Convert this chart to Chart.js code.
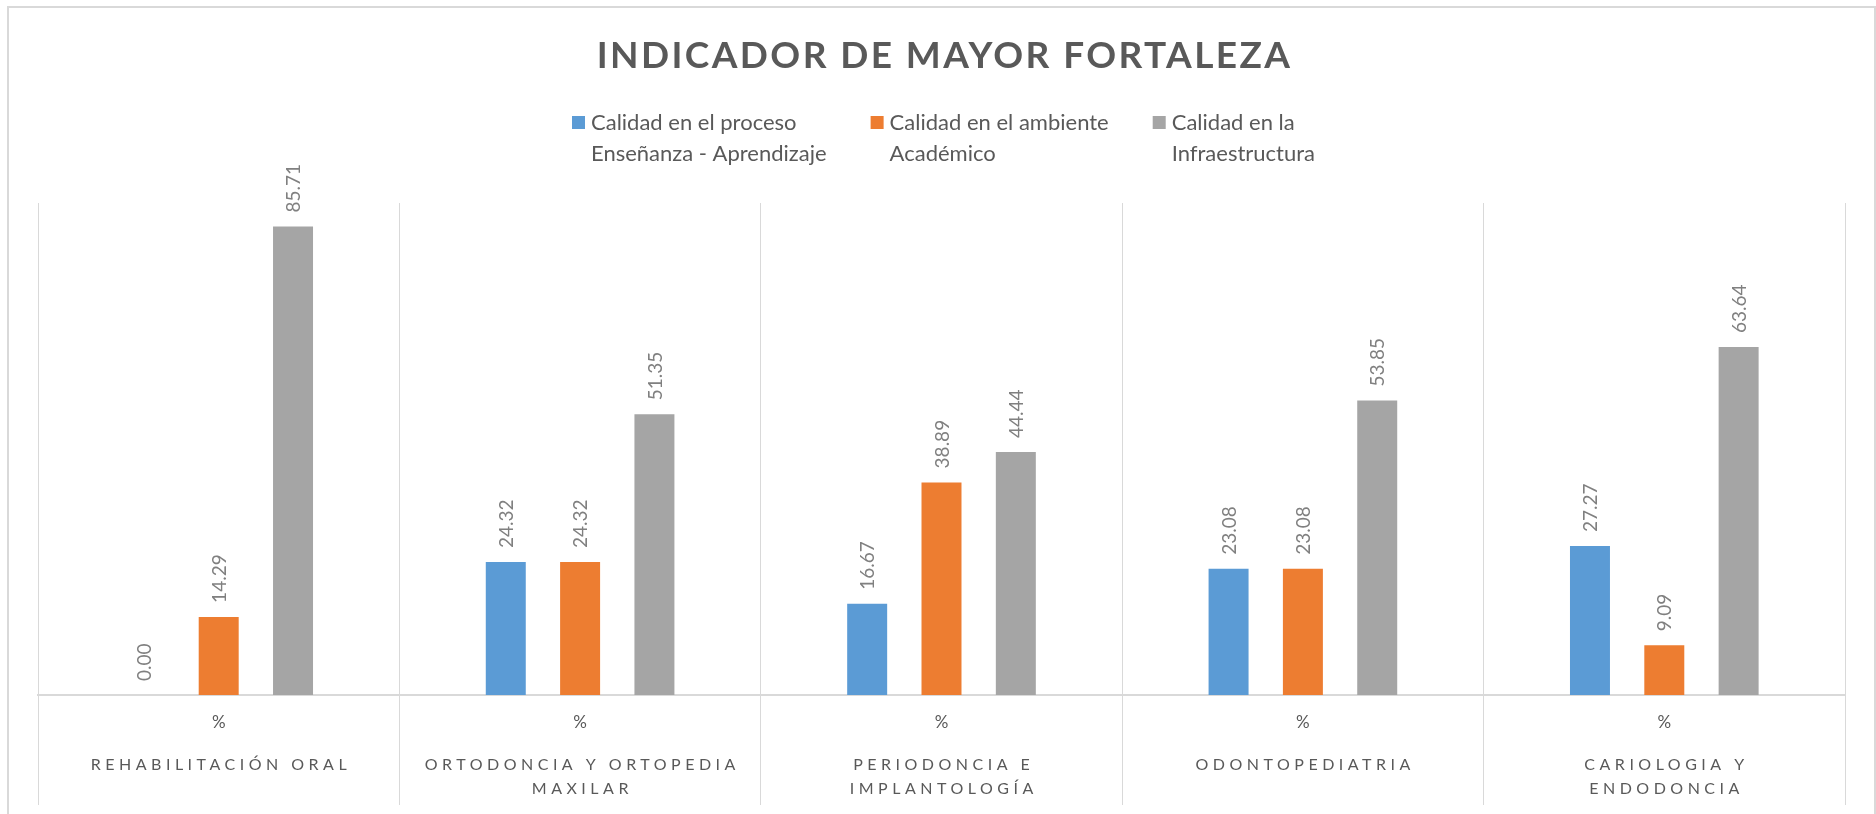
<!DOCTYPE html>
<html>
<head>
<meta charset="utf-8">
<script src="https://cdn.jsdelivr.net/npm/chart.js@4/dist/chart.umd.min.js"></script>
<style>
html,body{margin:0;padding:0;background:#fff;}
#wrap{width:1876px;height:814px;position:relative;}
</style>
</head>
<body>
<div id="wrap"><canvas id="c"></canvas></div>
<script>
// ---- data ----
const chartTitle = 'INDICADOR DE MAYOR FORTALEZA';
const categories = ['REHABILITACIÓN ORAL', 'ORTODONCIA Y ORTOPEDIA MAXILAR', 'PERIODONCIA E IMPLANTOLOGÍA', 'ODONTOPEDIATRIA', 'CARIOLOGIA Y ENDODONCIA'];
const categoryLines = [['REHABILITACIÓN ORAL'], ['ORTODONCIA Y ORTOPEDIA', 'MAXILAR'], ['PERIODONCIA E', 'IMPLANTOLOGÍA'], ['ODONTOPEDIATRIA'], ['CARIOLOGIA Y', 'ENDODONCIA']];
const subLabel = '%';
const seriesNames = [['Calidad en el proceso', 'Enseñanza - Aprendizaje'], ['Calidad en el ambiente', 'Académico'], ['Calidad en la', 'Infraestructura']];
const procesoValues = [0.00, 24.32, 16.67, 23.08, 27.27];
const ambienteValues = [14.29, 24.32, 38.89, 23.08, 9.09];
const infraValues = [85.71, 51.35, 44.44, 53.85, 63.64];
const seriesColors = ['#5B9BD5', '#ED7D31', '#A5A5A5'];
const yMin = 0, yMax = 90;

const deco = {
  id: 'deco',
  beforeDraw(chart) {
    const ctx = chart.ctx;
    ctx.save();
    ctx.fillStyle = '#ffffff';
    ctx.fillRect(0, 0, chart.width, chart.height);
    ctx.strokeStyle = '#d9d9d9';
    ctx.lineWidth = 2;
    ctx.beginPath();
    ctx.moveTo(8, chart.height + 2);
    ctx.lineTo(8, 7);
    ctx.lineTo(chart.width - 1, 7);
    ctx.lineTo(chart.width - 1, chart.height + 2);
    ctx.stroke();
    ctx.restore();
  },
  afterDatasetsDraw(chart) {
    const ctx = chart.ctx;
    ctx.save();
    ctx.font = '19px Lato';
    ctx.fillStyle = '#808080';
    ctx.textAlign = 'left';
    ctx.textBaseline = 'middle';
    chart.data.datasets.forEach((ds, di) => {
      const meta = chart.getDatasetMeta(di);
      meta.data.forEach((bar, i) => {
        ctx.save();
        ctx.translate(bar.x + 1, bar.y - 14);
        ctx.rotate(-Math.PI / 2);
        ctx.fillText(ds.data[i].toFixed(2), 0, 0);
        ctx.restore();
      });
    });
    ctx.restore();
  },
  afterDraw(chart) {
    const ctx = chart.ctx;
    const area = chart.chartArea;
    const cx = (area.left + area.right) / 2;
    ctx.save();
    // title
    ctx.font = 'bold 37px Lato';
    ctx.fillStyle = '#595959';
    ctx.textAlign = 'center';
    ctx.textBaseline = 'middle';
    ctx.letterSpacing = '2.4px';
    ctx.fillText(chartTitle, cx + 3, 56);
    ctx.letterSpacing = '0px';
    // legend
    ctx.font = '22px Lato';
    ctx.textAlign = 'left';
    const sq = 13, gapSq = 6, gapItem = 44;
    const widths = seriesNames.map(lines => Math.max(...lines.map(l => ctx.measureText(l).width)));
    let total = widths.reduce((a, w) => a + sq + gapSq + w, 0) + gapItem * (widths.length - 1);
    let x = cx + 2 - total / 2;
    seriesNames.forEach((lines, i) => {
      ctx.fillStyle = seriesColors[i];
      ctx.fillRect(x, 116, sq, sq);
      ctx.fillStyle = '#595959';
      lines.forEach((l, li) => ctx.fillText(l, x + sq + gapSq, 123 + li * 31));
      x += sq + gapSq + widths[i] + gapItem;
    });
    // category labels (two-level axis)
    const xs = chart.scales.x;
    ctx.textAlign = 'center';
    ctx.fillStyle = '#595959';
    categoryLines.forEach((lines, i) => {
      const px = xs.getPixelForValue(i);
      ctx.font = '17px Lato';
      ctx.letterSpacing = '0px';
      ctx.fillText(subLabel, px, 723);
      ctx.font = '16px Lato';
      ctx.letterSpacing = '4.5px';
      lines.forEach((l, li) => ctx.fillText(l, px + 2.25, 765 + li * 24));
    });
    ctx.restore();
  }
};

new Chart(document.getElementById('c'), {
  type: 'bar',
  data: {
    labels: categories,
    datasets: [
      { label: seriesNames[0].join(' '), data: procesoValues, backgroundColor: seriesColors[0] },
      { label: seriesNames[1].join(' '), data: ambienteValues, backgroundColor: seriesColors[1] },
      { label: seriesNames[2].join(' '), data: infraValues, backgroundColor: seriesColors[2] }
    ]
  },
  options: {
    responsive: true,
    maintainAspectRatio: false,
    devicePixelRatio: 1,
    animation: false,
    datasets: { bar: { categoryPercentage: 0.617, barPercentage: 0.538 } },
    layout: { padding: { left: 38, right: 31, top: 203, bottom: 9 } },
    scales: {
      x: {
        grid: { display: true, offset: true, color: '#d9d9d9', lineWidth: 1, drawTicks: true, tickLength: 110, tickColor: '#d9d9d9' },
        ticks: { display: false },
        border: { display: true, color: '#d9d9d9', width: 2 }
      },
      y: { display: false, min: yMin, max: yMax }
    },
    plugins: { legend: { display: false }, tooltip: { enabled: false }, title: { display: false } }
  },
  plugins: [deco]
});
</script>
</body>
</html>
